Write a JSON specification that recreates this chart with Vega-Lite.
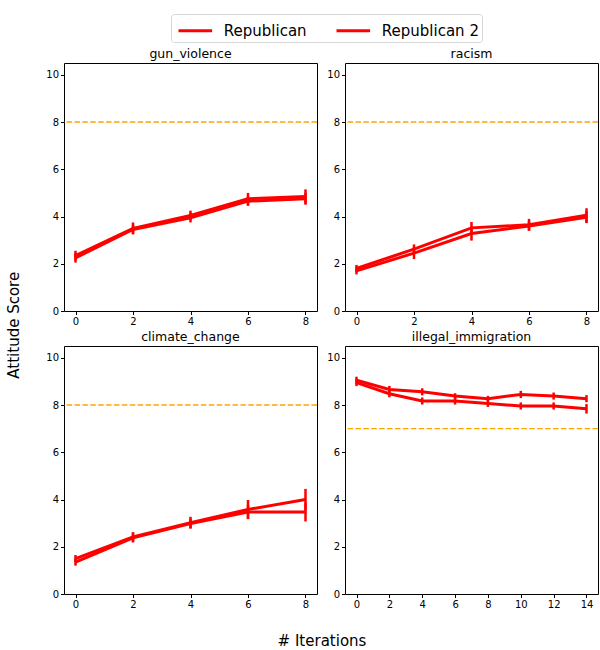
{
  "$schema": "https://vega.github.io/schema/vega-lite/v6.json",
  "background": "white",
  "padding": {"left": 7, "top": 13, "right": 2, "bottom": 0},
  "autosize": {"type": "pad"},
  "title": {
    "text": "Attitude Score",
    "orient": "left",
    "anchor": "middle",
    "font": "DejaVu Sans",
    "fontSize": 15,
    "fontWeight": "normal",
    "color": "black",
    "offset": 23,
    "dx": 6
  },
  "data": {
    "values": [
      {"topic": "gun_violence", "party": "Republican", "iteration": 0, "score": 2.35, "err": 0.2, "ref": 8},
      {"topic": "gun_violence", "party": "Republican", "iteration": 2, "score": 3.5, "err": 0.25, "ref": 8},
      {"topic": "gun_violence", "party": "Republican", "iteration": 4, "score": 4.05, "err": 0.2, "ref": 8},
      {"topic": "gun_violence", "party": "Republican", "iteration": 6, "score": 4.75, "err": 0.25, "ref": 8},
      {"topic": "gun_violence", "party": "Republican", "iteration": 8, "score": 4.85, "err": 0.3, "ref": 8},
      {"topic": "gun_violence", "party": "Republican 2", "iteration": 0, "score": 2.25, "err": 0.2, "ref": 8},
      {"topic": "gun_violence", "party": "Republican 2", "iteration": 2, "score": 3.45, "err": 0.2, "ref": 8},
      {"topic": "gun_violence", "party": "Republican 2", "iteration": 4, "score": 3.95, "err": 0.2, "ref": 8},
      {"topic": "gun_violence", "party": "Republican 2", "iteration": 6, "score": 4.65, "err": 0.2, "ref": 8},
      {"topic": "gun_violence", "party": "Republican 2", "iteration": 8, "score": 4.75, "err": 0.25, "ref": 8},

      {"topic": "racism", "party": "Republican", "iteration": 0, "score": 1.8, "err": 0.15, "ref": 8},
      {"topic": "racism", "party": "Republican", "iteration": 2, "score": 2.62, "err": 0.2, "ref": 8},
      {"topic": "racism", "party": "Republican", "iteration": 4, "score": 3.52, "err": 0.25, "ref": 8},
      {"topic": "racism", "party": "Republican", "iteration": 6, "score": 3.65, "err": 0.25, "ref": 8},
      {"topic": "racism", "party": "Republican", "iteration": 8, "score": 4.05, "err": 0.3, "ref": 8},
      {"topic": "racism", "party": "Republican 2", "iteration": 0, "score": 1.7, "err": 0.15, "ref": 8},
      {"topic": "racism", "party": "Republican 2", "iteration": 2, "score": 2.45, "err": 0.25, "ref": 8},
      {"topic": "racism", "party": "Republican 2", "iteration": 4, "score": 3.28, "err": 0.3, "ref": 8},
      {"topic": "racism", "party": "Republican 2", "iteration": 6, "score": 3.6, "err": 0.2, "ref": 8},
      {"topic": "racism", "party": "Republican 2", "iteration": 8, "score": 3.97, "err": 0.25, "ref": 8},

      {"topic": "climate_change", "party": "Republican", "iteration": 0, "score": 1.5, "err": 0.15, "ref": 8},
      {"topic": "climate_change", "party": "Republican", "iteration": 2, "score": 2.42, "err": 0.2, "ref": 8},
      {"topic": "climate_change", "party": "Republican", "iteration": 4, "score": 3.02, "err": 0.25, "ref": 8},
      {"topic": "climate_change", "party": "Republican", "iteration": 6, "score": 3.58, "err": 0.4, "ref": 8},
      {"topic": "climate_change", "party": "Republican", "iteration": 8, "score": 4.0, "err": 0.45, "ref": 8},
      {"topic": "climate_change", "party": "Republican 2", "iteration": 0, "score": 1.35, "err": 0.15, "ref": 8},
      {"topic": "climate_change", "party": "Republican 2", "iteration": 2, "score": 2.38, "err": 0.2, "ref": 8},
      {"topic": "climate_change", "party": "Republican 2", "iteration": 4, "score": 2.98, "err": 0.2, "ref": 8},
      {"topic": "climate_change", "party": "Republican 2", "iteration": 6, "score": 3.47, "err": 0.3, "ref": 8},
      {"topic": "climate_change", "party": "Republican 2", "iteration": 8, "score": 3.47, "err": 0.4, "ref": 8},

      {"topic": "illegal_immigration", "party": "Republican", "iteration": 0, "score": 9.05, "err": 0.15, "ref": 7},
      {"topic": "illegal_immigration", "party": "Republican", "iteration": 2, "score": 8.66, "err": 0.15, "ref": 7},
      {"topic": "illegal_immigration", "party": "Republican", "iteration": 4, "score": 8.56, "err": 0.15, "ref": 7},
      {"topic": "illegal_immigration", "party": "Republican", "iteration": 6, "score": 8.38, "err": 0.12, "ref": 7},
      {"topic": "illegal_immigration", "party": "Republican", "iteration": 8, "score": 8.27, "err": 0.12, "ref": 7},
      {"topic": "illegal_immigration", "party": "Republican", "iteration": 10, "score": 8.45, "err": 0.15, "ref": 7},
      {"topic": "illegal_immigration", "party": "Republican", "iteration": 12, "score": 8.38, "err": 0.15, "ref": 7},
      {"topic": "illegal_immigration", "party": "Republican", "iteration": 14, "score": 8.27, "err": 0.15, "ref": 7},
      {"topic": "illegal_immigration", "party": "Republican 2", "iteration": 0, "score": 8.95, "err": 0.15, "ref": 7},
      {"topic": "illegal_immigration", "party": "Republican 2", "iteration": 2, "score": 8.48, "err": 0.15, "ref": 7},
      {"topic": "illegal_immigration", "party": "Republican 2", "iteration": 4, "score": 8.17, "err": 0.15, "ref": 7},
      {"topic": "illegal_immigration", "party": "Republican 2", "iteration": 6, "score": 8.17, "err": 0.15, "ref": 7},
      {"topic": "illegal_immigration", "party": "Republican 2", "iteration": 8, "score": 8.07, "err": 0.15, "ref": 7},
      {"topic": "illegal_immigration", "party": "Republican 2", "iteration": 10, "score": 7.96, "err": 0.15, "ref": 7},
      {"topic": "illegal_immigration", "party": "Republican 2", "iteration": 12, "score": 7.96, "err": 0.15, "ref": 7},
      {"topic": "illegal_immigration", "party": "Republican 2", "iteration": 14, "score": 7.84, "err": 0.2, "ref": 7}
    ]
  },
  "facet": {
    "field": "topic",
    "type": "nominal",
    "sort": ["gun_violence", "racism", "climate_change", "illegal_immigration"],
    "header": {
      "title": "# Iterations",
      "titleOrient": "bottom",
      "titleFont": "DejaVu Sans",
      "titleFontSize": 15,
      "titleFontWeight": "normal",
      "titleColor": "black",
      "titlePadding": 24,
      "labelOrient": "top",
      "labelFont": "DejaVu Sans",
      "labelFontSize": 12.5,
      "labelColor": "black",
      "labelPadding": 3
    }
  },
  "columns": 2,
  "spacing": {"row": 3, "column": 7},
  "resolve": {
    "scale": {"x": "independent"},
    "axis": {"x": "independent", "y": "independent"}
  },
  "spec": {
    "width": 253,
    "height": 248,
    "encoding": {
      "x": {
        "field": "iteration",
        "type": "quantitative",
        "title": null,
        "scale": {"nice": false, "zero": false, "padding": 11.5},
        "axis": {"tickCount": 5, "format": "d"}
      }
    },
    "layer": [
      {
        "mark": {"type": "rule", "color": "#FFA500", "strokeWidth": 1.4, "strokeDash": [5.5, 2.4]},
        "encoding": {
          "x": null,
          "y": {"field": "ref", "type": "quantitative", "aggregate": "max"}
        }
      },
      {
        "mark": {"type": "line", "strokeWidth": 3},
        "encoding": {
          "y": {
            "field": "score",
            "type": "quantitative",
            "title": null,
            "scale": {"domain": [0, 10.5], "nice": false},
            "axis": {"values": [0, 2, 4, 6, 8, 10]}
          },
          "color": {
            "field": "party",
            "type": "nominal",
            "title": null,
            "scale": {"domain": ["Republican", "Republican 2"], "range": ["#FF0000", "#FF0000"]},
            "legend": {
              "orient": "none",
              "legendX": 107,
              "legendY": -49,
              "direction": "horizontal",
              "symbolType": "M-1.4,0H1.4",
              "symbolStrokeWidth": 3,
              "symbolSize": 576,
              "symbolOffset": 7.8,
              "labelFontSize": 15,
              "labelFont": "DejaVu Sans",
              "labelColor": "black",
              "labelOffset": 15,
              "columnPadding": 23,
              "padding": 3,
              "strokeColor": "#d6d6d6",
              "cornerRadius": 3
            }
          }
        }
      },
      {
        "mark": {"type": "errorbar", "thickness": 2.5, "ticks": false},
        "encoding": {
          "y": {"field": "score", "type": "quantitative", "title": null},
          "yError": {"field": "err"},
          "color": {"field": "party", "type": "nominal"}
        }
      }
    ]
  },
  "config": {
    "view": {"stroke": "black", "strokeWidth": 1},
    "axis": {
      "grid": false,
      "domain": false,
      "tickColor": "black",
      "tickSize": 3.5,
      "labelFont": "DejaVu Sans",
      "labelFontSize": 10,
      "labelColor": "black",
      "labelPadding": 2
    }
  }
}
